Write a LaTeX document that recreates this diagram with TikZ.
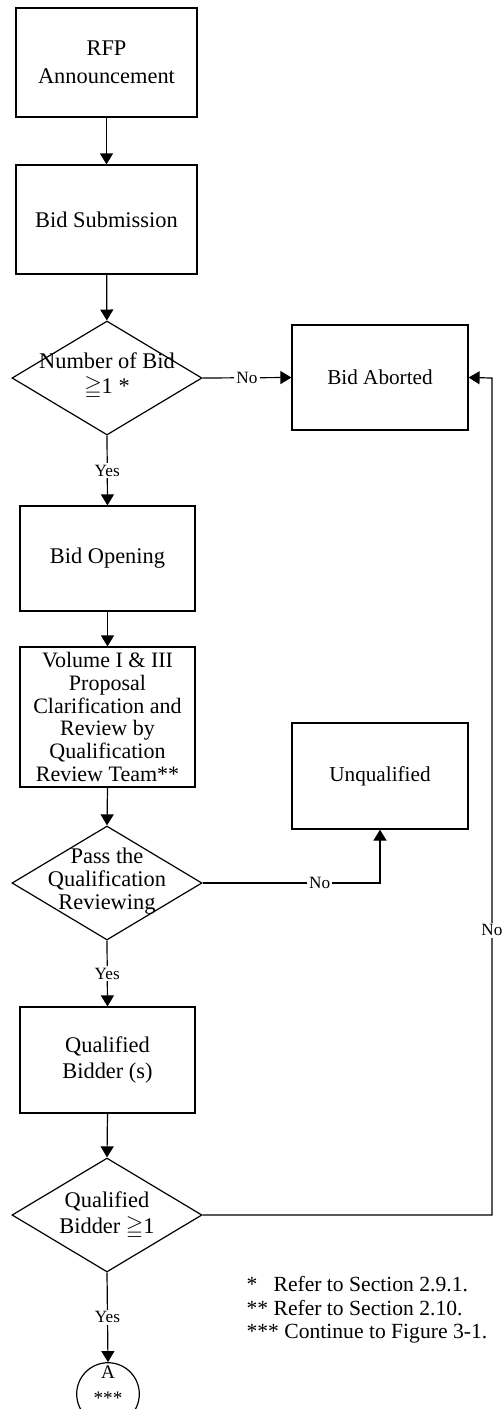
\documentclass[tikz,border=0pt]{standalone}
\usepackage{fontspec}
\usepackage{amssymb}
\setmainfont{Liberation Serif}
\usetikzlibrary{shapes.geometric,arrows.meta}

\begin{document}
\begin{tikzpicture}[x=0.5pt,y=-0.5pt,line width=0.6pt,
 proc/.style={draw,rectangle,inner sep=0pt,align=center,
   minimum width=87.5pt,minimum height=52.5pt,font=\fontsize{11.2}{13.5}\selectfont},
 sideproc/.style={proc,minimum width=88pt,font=\fontsize{10.6}{12}\selectfont},
 decide/.style={draw,diamond,inner sep=0pt,minimum width=95pt,minimum height=57pt},
 decidetxt/.style={align=center,inner sep=0pt,font=\fontsize{11.2}{11.6}\selectfont},
 arr/.style={-{Triangle[length=5.5pt,width=6.5pt]}},
 lbl/.style={fill=white,inner sep=1pt,font=\fontsize{8.6}{9}\selectfont}]
 \useasboundingbox (0,0) rectangle (502,1409);
 % main column
 \node[proc,minimum width=90.5pt,minimum height=54.5pt,font=\fontsize{11.2}{14}\selectfont]
  (rfp) at (106.5,62.5) {RFP\\Announcement};
 \node[proc,minimum width=90.5pt,minimum height=54.5pt] (sub) at (106.5,219.5) {Bid Submission};
 \node[decide] (numbid) at (107,378) {};
 \node[decidetxt,font=\fontsize{11.2}{12.4}\selectfont] (numbidtxt) at (107,376) {Number of Bid\\$\geqq$1 *};
 \node[proc] (open) at (107.5,558.5) {Bid Opening};
 \node[proc,minimum height=70pt,font=\fontsize{11}{11.4}\selectfont] (vol) at (107.5,717)
  {Volume I \& III\\Proposal\\Clarification and\\Review by\\Qualification\\Review Team**};
 \node[decide] (pass) at (107,883) {};
 \node[decidetxt] (passtxt) at (107,881) {Pass the\\Qualification\\Reviewing};
 \node[proc,minimum height=53pt,font=\fontsize{11.2}{13}\selectfont] (qual) at (107.5,1060)
  {Qualified\\Bidder (s)};
 \node[decide] (qualnum) at (107,1215) {};
 \node[decidetxt,font=\fontsize{11.2}{13}\selectfont] (qualnumtxt) at (107,1215)
  {Qualified\\Bidder $\geqq$1};
 \node[draw,circle,inner sep=0pt,minimum size=31.3pt] (conA) at (108,1394) {};
 \node[align=center,inner sep=0pt,font=\fontsize{9.6}{13}\selectfont] (conAtxt) at (108,1385) {A\\***};
 % right column
 \node[sideproc] (abort) at (380,377.5) {Bid Aborted};
 \node[sideproc,minimum height=53pt] (unq) at (380,776) {Unqualified};
 \coordinate (back) at (492,378);
 % notes
 \node[anchor=west,align=left,inner sep=0pt,font=\fontsize{10.8}{11.8}\selectfont] (notes) at (246,1310)
  {*\ \ \ Refer to Section 2.9.1.\\** Refer to Section 2.10.\\*** Continue to Figure 3-1.};
 % connectors
 \draw[arr] (rfp) -- (sub);
 \draw[arr] (sub) -- (numbid);
 \draw[arr] (numbid.east) -- node[lbl]{No} (abort.west);
 \draw[arr] (numbid.south) -- node[lbl]{Yes} (open.north);
 \draw[arr] (open) -- (vol);
 \draw[arr] (vol.south) -- (pass.north);
 \draw[arr] (pass.east) -| node[lbl,pos=0.33]{No} (unq.south);
 \draw[arr] (pass.south) -- node[lbl]{Yes} (qual.north);
 \draw[arr] (qual.south) -- (qualnum.north);
 \draw[arr] (qualnum.east) -| node[lbl,pos=0.67]{No} (back) -- (abort.east);
 \draw[arr] (qualnum.south) -- node[lbl]{Yes} (conA.north);
\end{tikzpicture}
\end{document}
